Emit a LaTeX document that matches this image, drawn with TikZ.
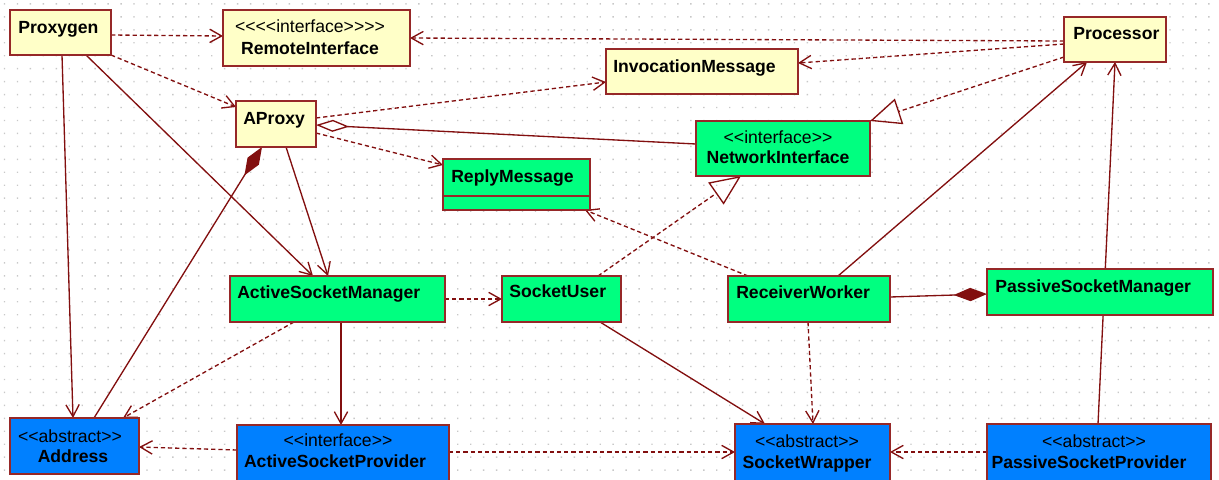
\documentclass[tikz,border=0pt]{standalone}
\usepackage{fontspec}
\setmainfont{Liberation Sans}
\usetikzlibrary{arrows.meta}

\definecolor{clsyellow}{RGB}{255,255,200}
\definecolor{clsgreen}{RGB}{0,255,128}
\definecolor{clsblue}{RGB}{0,128,255}
\definecolor{boxline}{RGB}{150,40,40}
\definecolor{lnred}{RGB}{130,15,15}
\definecolor{dotgray}{RGB}{200,200,200}

\pgfdeclarelayer{bg}
\pgfsetlayers{bg,main}

\tikzset{
  cls/.style={draw=boxline, line width=1.3pt, inner sep=0pt, outer sep=0pt, anchor=north west},
  yel/.style={cls, fill=clsyellow},
  grn/.style={cls, fill=clsgreen},
  blu/.style={cls, fill=clsblue},
  txt/.style={inner sep=0pt, anchor=base west, font=\bfseries\fontsize{13.2}{15}\selectfont},
  nm/.style={txt, anchor=base},
  ster/.style={inner sep=0pt, anchor=base, font=\fontsize{13.2}{15}\selectfont},
  conn/.style={draw=lnred, line width=1pt},
  dep/.style={conn, dash pattern=on 3.2pt off 2.2pt, -{Straight Barb[length=9pt,width=10pt]}},
  assoc/.style={conn, -{Straight Barb[length=9pt,width=10pt]}},
  realize/.style={conn, dash pattern=on 3.2pt off 2.2pt, -{Triangle[open,length=23pt,width=20pt]}},
  compos/.style={conn, -{Diamond[length=25pt,width=10pt]}},
  aggr/.style={conn, {Diamond[open,length=25pt,width=9pt]}-},
}

\begin{document}
\begin{tikzpicture}[x=0.75pt,y=-0.75pt]
\useasboundingbox (0,0) rectangle (1219,479);
\clip (0,0) rectangle (1219,479);

% class boxes
\node[yel, minimum width=101*0.75pt, minimum height=45*0.75pt] (proxygen) at (10,10) {};
\node[yel, minimum width=187*0.75pt, minimum height=56*0.75pt] (remote) at (223,10) {};
\node[yel, minimum width=102*0.75pt, minimum height=45*0.75pt] (processor) at (1064,17) {};
\node[yel, minimum width=192*0.75pt, minimum height=45*0.75pt] (invocation) at (606,49) {};
\node[yel, minimum width=80*0.75pt, minimum height=46*0.75pt] (aproxy) at (236,101) {};
\node[grn, minimum width=174*0.75pt, minimum height=55*0.75pt] (network) at (696,121) {};
\node[grn, minimum width=147*0.75pt, minimum height=51*0.75pt] (reply) at (443,159) {};
\node[grn, minimum width=215*0.75pt, minimum height=46*0.75pt] (asm) at (230,276) {};
\node[grn, minimum width=119*0.75pt, minimum height=46*0.75pt] (socketuser) at (502,276) {};
\node[grn, minimum width=162*0.75pt, minimum height=46*0.75pt] (receiver) at (728,276) {};
\node[grn, minimum width=226*0.75pt, minimum height=46*0.75pt] (psm) at (987,269) {};
\node[blu, minimum width=129*0.75pt, minimum height=56*0.75pt] (address) at (10,418) {};
\node[blu, minimum width=212*0.75pt, minimum height=70*0.75pt] (asp) at (237,425) {};
\node[blu, minimum width=155*0.75pt, minimum height=70*0.75pt] (sw) at (735,424) {};
\node[blu, minimum width=224*0.75pt, minimum height=70*0.75pt] (psp) at (987,424) {};

% compartment divider of ReplyMessage
\draw[draw=boxline, line width=1.1pt] ([shift={(0,37)}]reply.north west) -- ([shift={(147,37)}]reply.north west);

% class names and stereotypes
\node[txt] (proxygenT) at (18,33) {Proxygen};
\node[ster] (remoteS) at (310,32) {<{}<{}<{}<interface>{}>{}>{}>};
\node[nm] (remoteT) at (310,54) {RemoteInterface};
\node[txt] (processorT) at (1073,39) {Processor};
\node[txt] (invocationT) at (613,72) {InvocationMessage};
\node[txt] (aproxyT) at (243,124) {AProxy};
\node[ster] (networkS) at (778,143) {<{}<interface>{}>};
\node[nm] (networkT) at (778,163) {NetworkInterface};
\node[txt] (replyT) at (451,182) {ReplyMessage};
\node[txt] (asmT) at (237,298) {ActiveSocketManager};
\node[txt] (socketuserT) at (509,297) {SocketUser};
\node[txt] (receiverT) at (736,298) {ReceiverWorker};
\node[txt] (psmT) at (995,292) {PassiveSocketManager};
\node[ster] (addressS) at (70,442) {<{}<abstract>{}>};
\node[nm] (addressT) at (73,462) {Address};
\node[ster] (aspS) at (338,446) {<{}<interface>{}>};
\node[nm] (aspT) at (335,467) {ActiveSocketProvider};
\node[ster] (swS) at (807,447) {<{}<abstract>{}>};
\node[nm] (swT) at (807,468) {SocketWrapper};
\node[ster] (pspS) at (1094,447) {<{}<abstract>{}>};
\node[nm] (pspT) at (1089,468) {PassiveSocketProvider};

\begin{pgfonlayer}{bg}
  \clip (0,0) rectangle (1219,479);
  % dotted drawing grid
  \fill[dotgray] \foreach \i in {0,...,94} { \foreach \j in {0,...,37} {
      ({3.8+12.95*\i},{3.2+12.95*\j}) rectangle ++(1.4,1.4) } };

  % relations
  \draw[dep] ([shift={(101,25)}]proxygen.north west) -- ([shift={(0,26)}]remote.north west);
  \draw[dep] ([shift={(101,45)}]proxygen.north west) -- ([shift={(0,6)}]aproxy.north west);
  \draw[assoc] ([shift={(52,45)}]proxygen.north west) -- ([shift={(63,0)}]address.north west);
  \draw[assoc] ([shift={(76,45)}]proxygen.north west) -- ([shift={(83,0)}]asm.north west);

  \draw[dep] ([shift={(0,24)}]processor.north west) -- ([shift={(187,28)}]remote.north west);
  \draw[dep] ([shift={(0,27)}]processor.north west) -- ([shift={(192,14)}]invocation.north west);
  \draw[realize] ([shift={(0,40)}]processor.north west) -- ([shift={(174,0)}]network.north west);

  \draw[dep] ([shift={(80,17)}]aproxy.north west) -- ([shift={(0,33)}]invocation.north west);
  \draw[aggr] ([shift={(80,24)}]aproxy.north west) -- ([shift={(0,23)}]network.north west);
  \draw[dep] ([shift={(80,32)}]aproxy.north west) -- ([shift={(0,6)}]reply.north west);
  \draw[assoc] ([shift={(50,46)}]aproxy.north west) -- ([shift={(98,0)}]asm.north west);
  \draw[compos] ([shift={(84,0)}]address.north west) -- ([shift={(26,46)}]aproxy.north west);

  \draw[dep] ([shift={(215,23)}]asm.north west) -- ([shift={(0,23)}]socketuser.north west);
  \draw[dep] ([shift={(64,46)}]asm.north west) -- ([shift={(113,0)}]address.north west);
  \draw[assoc] ([shift={(111,46)}]asm.north west) -- ([shift={(104,0)}]asp.north west);

  \draw[dep] ([shift={(0,25)}]asp.north west) -- ([shift={(129,29)}]address.north west);
  \draw[dep] ([shift={(212,27)}]asp.north west) -- ([shift={(0,28)}]sw.north west);

  \draw[realize] ([shift={(96,0)}]socketuser.north west) -- ([shift={(45,55)}]network.north west);
  \draw[assoc] ([shift={(98,46)}]socketuser.north west) -- ([shift={(30,0)}]sw.north west);

  \draw[dep] ([shift={(20,0)}]receiver.north west) -- ([shift={(142,51)}]reply.north west);
  \draw[assoc] ([shift={(110,0)}]receiver.north west) -- ([shift={(23,45)}]processor.north west);
  \draw[dep] ([shift={(80,46)}]receiver.north west) -- ([shift={(78,0)}]sw.north west);
  \draw[compos] ([shift={(162,21)}]receiver.north west) -- ([shift={(0,25)}]psm.north west);

  \draw[assoc] ([shift={(111,0)}]psp.north west) -- ([shift={(51,45)}]processor.north west);
  \draw[dep] ([shift={(0,28)}]psp.north west) -- ([shift={(155,28)}]sw.north west);
\end{pgfonlayer}
\end{tikzpicture}
\end{document}
